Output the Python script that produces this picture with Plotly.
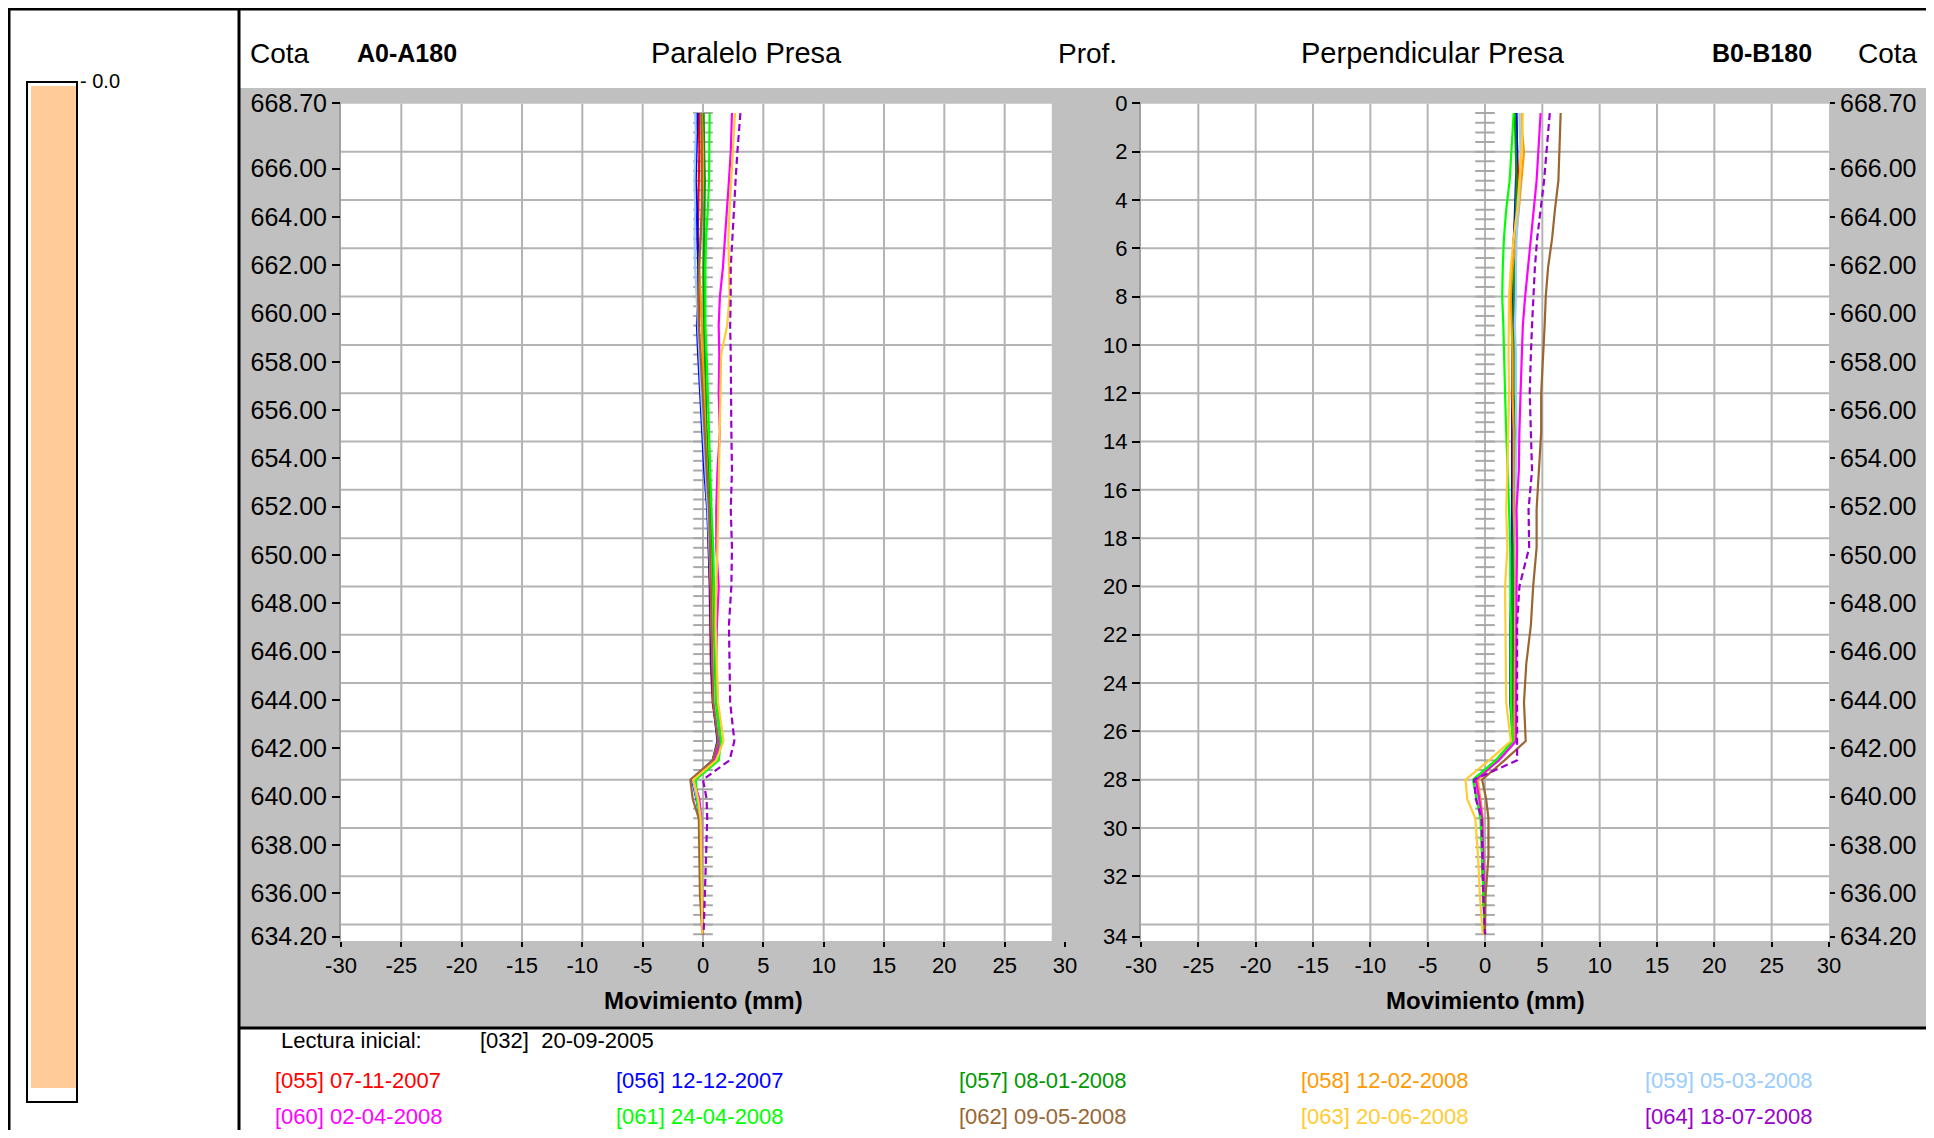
import plotly.graph_objects as go

# target canvas is 1934x1138; the page body adds an 8px margin, so the figure is
# kept inside the window and every target pixel position is shifted by that margin
W, H = 1918, 1122
OFF = 8
FONT = "Liberation Sans, Arial, sans-serif"

# ---------------- data ----------------
DEPTHS = [0.4, 1.2, 2.0, 3.2, 4.4, 5.6, 6.8, 8.0, 9.2, 10.4, 12.0, 13.6, 15.2, 16.8,
          18.4, 20.0, 21.6, 23.2, 24.8, 26.4, 27.2, 28.0, 28.8, 29.6, 31.2, 32.8, 34.4]

SERIES_IDS = ["055", "056", "057", "058", "059", "060", "061", "062", "063", "064"]
SERIES_DATES = ["07-11-2007", "12-12-2007", "08-01-2008", "12-02-2008", "05-03-2008",
                "02-04-2008", "24-04-2008", "09-05-2008", "20-06-2008", "18-07-2008"]
SERIES_COLORS = ["#FF0000", "#0000FF", "#009900", "#FF9900", "#99CCFF",
                 "#FF00FF", "#00FF00", "#996633", "#FFCC33", "#9900CC"]

# A0-A180 (Paralelo Presa), mm
A055 = [-0.35, -0.3, -0.3, -0.35, -0.4, -0.45, -0.35, -0.3, -0.35, -0.3, -0.15, 0.0, 0.2, 0.4,
        0.5, 0.55, 0.6, 0.65, 0.8, 1.25, 0.85, -0.85, -0.5, -0.25, -0.2, -0.1, 0.0]
A056 = [-0.45, -0.5, -0.55, -0.6, -0.5, -0.45, -0.4, -0.45, -0.5, -0.4, -0.25, -0.1, 0.1, 0.35,
        0.5, 0.6, 0.65, 0.7, 0.85, 1.2, 0.8, -0.9, -0.55, -0.25, -0.2, -0.15, -0.05]
A057 = [0.05, 0.1, 0.1, 0.15, 0.15, 0.1, 0.05, 0.05, 0.1, 0.15, 0.2, 0.3, 0.45, 0.6,
        0.75, 0.8, 0.85, 0.95, 1.05, 1.4, 1.1, -0.75, -0.45, -0.25, -0.2, -0.1, 0.0]
A058 = [-0.1, -0.05, 0.0, 0.0, -0.1, -0.2, -0.3, -0.2, -0.1, 0.0, 0.1, 0.2, 0.35, 0.5,
        0.6, 0.7, 0.75, 0.8, 0.9, 1.3, 0.9, -0.8, -0.5, -0.2, -0.15, -0.1, 0.0]
A059 = [-0.65, -0.6, -0.65, -0.7, -0.65, -0.7, -0.65, -0.55, -0.45, -0.3, -0.15, 0.0, 0.2, 0.4,
        0.55, 0.65, 0.7, 0.8, 0.9, 1.3, 0.95, -0.85, -0.5, -0.25, -0.2, -0.1, 0.0]
A060 = [2.4, 2.35, 2.3, 2.15, 2.0, 1.85, 1.65, 1.4, 1.3, 1.35, 1.3, 1.4, 1.2, 1.1,
        1.1, 1.3, 1.15, 1.1, 1.2, 1.45, 0.9, -0.8, -0.3, -0.15, -0.15, -0.1, 0.0]
A061 = [0.55, 0.55, 0.55, 0.5, 0.4, 0.25, 0.2, 0.2, 0.2, 0.3, 0.4, 0.45, 0.55, 0.7,
        0.85, 0.9, 0.95, 1.0, 1.1, 1.5, 1.3, -0.6, -0.5, -0.2, -0.15, -0.1, -0.05]
A062 = [-0.15, -0.1, -0.1, -0.1, -0.1, -0.2, -0.35, -0.4, -0.35, -0.2, -0.05, 0.1, 0.3, 0.5,
        0.6, 0.65, 0.7, 0.75, 0.85, 1.25, 0.8, -1.05, -0.85, -0.35, -0.3, -0.25, -0.05]
A063 = [2.65, 2.55, 2.45, 2.35, 2.2, 2.1, 2.15, 2.2, 2.0, 1.5, 1.45, 1.4, 1.35, 1.25,
        1.2, 1.1, 1.05, 1.15, 1.25, 1.7, 1.1, -0.8, -0.4, -0.2, -0.15, -0.1, -0.05]
A064 = [3.1, 2.95, 2.85, 2.7, 2.55, 2.4, 2.3, 2.3, 2.25, 2.3, 2.3, 2.35, 2.4, 2.3,
        2.4, 2.35, 2.15, 2.2, 2.25, 2.6, 2.2, 0.0, 0.3, 0.35, 0.25, 0.15, 0.05]

# B0-B180 (Perpendicular Presa), mm
B055 = [2.7, 2.75, 2.8, 2.9, 2.7, 2.5, 2.45, 2.5, 2.55, 2.45, 2.35, 2.4, 2.4, 2.45,
        2.45, 2.45, 2.4, 2.45, 2.45, 2.6, 1.1, -0.95, -0.65, -0.3, -0.25, -0.15, 0.0]
B056 = [2.75, 2.75, 2.8, 2.7, 2.6, 2.5, 2.45, 2.4, 2.4, 2.4, 2.4, 2.4, 2.4, 2.35,
        2.35, 2.3, 2.2, 2.2, 2.2, 2.45, 1.0, -1.0, -0.7, -0.3, -0.2, -0.15, 0.0]
B057 = [2.6, 2.65, 2.65, 2.75, 2.7, 2.6, 2.55, 2.5, 2.55, 2.5, 2.5, 2.6, 2.55, 2.5,
        2.5, 2.45, 2.4, 2.4, 2.4, 2.55, 0.95, -0.95, -0.65, -0.3, -0.25, -0.15, 0.0]
B058 = [3.2, 3.25, 3.4, 3.2, 2.95, 2.7, 2.4, 2.25, 2.3, 2.4, 2.4, 2.5, 2.5, 2.5,
        2.6, 2.65, 2.65, 2.6, 2.6, 2.55, 1.1, -0.65, -0.4, -0.2, -0.15, -0.1, 0.0]
B059 = [3.0, 3.05, 3.1, 3.05, 2.9, 2.75, 2.7, 2.7, 2.6, 2.7, 2.7, 2.75, 2.7, 2.7,
        2.7, 2.65, 2.65, 2.65, 2.65, 2.7, 1.2, -0.9, -0.6, -0.3, -0.2, -0.1, 0.0]
B060 = [4.85, 4.75, 4.65, 4.5, 4.25, 4.0, 3.7, 3.5, 3.3, 3.2, 3.1, 3.0, 2.95, 2.75,
        2.8, 2.75, 2.75, 2.7, 2.7, 2.7, 1.2, -0.8, -0.5, -0.25, -0.15, -0.1, 0.0]
B061 = [2.5, 2.4, 2.3, 2.15, 1.85, 1.65, 1.55, 1.5, 1.6, 1.65, 1.75, 1.85, 2.0, 2.1,
        2.2, 2.2, 2.2, 2.2, 2.25, 2.4, 0.95, -1.05, -0.75, -0.4, -0.25, -0.15, 0.0]
B062 = [6.6, 6.55, 6.45, 6.4, 6.1, 5.85, 5.5, 5.3, 5.2, 5.05, 4.9, 4.9, 4.7, 4.5,
        4.5, 4.2, 4.0, 3.6, 3.4, 3.55, 1.7, -0.25, 0.1, 0.3, 0.3, 0.05, 0.0]
B063 = [3.3, 3.25, 3.2, 3.0, 2.8, 2.5, 2.25, 2.1, 2.05, 2.05, 2.1, 2.05, 1.95, 1.85,
        1.95, 1.75, 1.8, 1.8, 1.85, 2.25, 0.35, -1.7, -1.55, -0.85, -0.6, -0.45, -0.2]
B064 = [5.65, 5.5, 5.4, 5.15, 4.85, 4.55, 4.35, 4.2, 4.1, 4.0, 3.9, 4.0, 4.1, 3.8,
        3.85, 3.0, 2.8, 2.8, 2.8, 2.8, 2.8, -0.95, -0.8, -0.3, -0.25, -0.15, 0.0]

A_SERIES = [A055, A056, A057, A058, A059, A060, A061, A062, A063, A064]
B_SERIES = [B055, B056, B057, B058, B059, B060, B061, B062, B063, B064]

READ_DEPTHS = [round(0.4 * k, 1) for k in range(1, 87)]   # gauge reading marks
GRID_DEPTHS = list(range(2, 35, 2))
GRID_X = [-25, -20, -15, -10, -5, 0, 5, 10, 15, 20, 25]
DEPTH_TICKS = list(range(0, 33, 2)) + [34.5]
DEPTH_TEXT = [str(v) for v in range(0, 33, 2)] + ["34"]
COTA_TICKS = [668.70] + list(range(666, 635, -2)) + [634.20]
COTA_TEXT = [f"{v:.2f}" for v in COTA_TICKS]
X_TICKS = list(range(-30, 31, 5))
X_TEXT = [str(v) for v in X_TICKS]

COTA_TOP = 668.70
DEPTH_BOTTOM = 34.68
A_WHITE_END = 28.9


def px(x):
    return (x - OFF) / W


def py(y):
    return 1 - (y - OFF) / H


fig = go.Figure()

GRID = "#B4B4B4"

for xa, ya in (("x", "y"), ("x2", "y2")):
    fig.add_trace(go.Scatter(
        x=[0] * len(READ_DEPTHS), y=READ_DEPTHS, xaxis=xa, yaxis=ya, mode="markers",
        marker=dict(symbol="line-ew", size=14, line=dict(width=2, color="#A8A8A8")),
        showlegend=False, hoverinfo="skip"))

for sid, col, a, b in zip(SERIES_IDS, SERIES_COLORS, A_SERIES, B_SERIES):
    dash = "7px,4px" if sid == "064" else "solid"
    fig.add_trace(go.Scatter(x=a, y=DEPTHS, xaxis="x", yaxis="y", mode="lines",
                             line=dict(color=col, width=2.2, dash=dash), showlegend=False,
                             name=sid))
    fig.add_trace(go.Scatter(x=b, y=DEPTHS, xaxis="x2", yaxis="y2", mode="lines",
                             line=dict(color=col, width=2.2, dash=dash), showlegend=False,
                             name=sid))

# invisible anchors so the overlaid label axes get drawn
for xa, ya, yv in (("x", "y4", COTA_TOP), ("x2", "y3", COTA_TOP), ("x2", "y5", 0)):
    fig.add_trace(go.Scatter(x=[0], y=[yv], xaxis=xa, yaxis=ya, mode="markers",
                             marker=dict(opacity=0, size=1), showlegend=False,
                             hoverinfo="skip"))

y_dom = [py(941), py(103.4)]
xaxis_common = dict(range=[-30, 30], tickvals=X_TICKS, ticktext=X_TEXT, ticks="outside",
                    ticklen=5, tickwidth=1.5, tickcolor="black", showgrid=False,
                    zeroline=False, showline=False, automargin=False,
                    tickfont=dict(size=22, color="black", family=FONT))
depth_grid = dict(domain=y_dom, range=[DEPTH_BOTTOM, 0], showticklabels=False, ticks="",
                  showgrid=False, zeroline=False, showline=True, linecolor="#A0A0A0",
                  linewidth=1.5, automargin=False)
cota_axis = dict(range=[COTA_TOP - DEPTH_BOTTOM, COTA_TOP], tickvals=COTA_TICKS,
                 ticktext=COTA_TEXT, ticks="outside", tickwidth=1.5, tickcolor="black",
                 showgrid=False, zeroline=False, showline=False, automargin=False,
                 tickfont=dict(size=25, color="black", family=FONT))

fig.update_layout(
    template="none",
    width=W, height=H, margin=dict(l=0, r=0, t=0, b=0, pad=0), autosize=False,
    paper_bgcolor="white", plot_bgcolor="#C0C0C0",
    font=dict(family=FONT, color="black"),
    showlegend=False,
    xaxis=dict(domain=[px(341), px(1065)], anchor="y", **xaxis_common),
    xaxis2=dict(domain=[px(1141), px(1829)], anchor="y2", **xaxis_common),
    yaxis=dict(anchor="x", **depth_grid),
    yaxis2=dict(anchor="x2", **depth_grid),
    yaxis4=dict(overlaying="y", side="left", anchor="x", ticklen=8, **cota_axis),
    yaxis3=dict(overlaying="y2", side="right", anchor="x2", ticklen=5, **cota_axis),
    yaxis5=dict(overlaying="y2", side="left", anchor="x2", range=[DEPTH_BOTTOM, 0],
                tickvals=DEPTH_TICKS, ticktext=DEPTH_TEXT, ticks="outside", ticklen=8,
                tickwidth=1.5, tickcolor="black", showgrid=False, zeroline=False,
                showline=False, automargin=False,
                tickfont=dict(size=22, color="black", family=FONT)),
)

shapes = [
    # grey panel
    dict(type="rect", xref="paper", yref="paper", x0=px(240), x1=1, y0=py(1027), y1=py(88),
         fillcolor="#C0C0C0", line=dict(width=0), layer="below"),
    # white plot areas
    dict(type="rect", xref="x", yref="y", x0=-30, x1=A_WHITE_END, y0=DEPTH_BOTTOM, y1=0,
         fillcolor="white", line=dict(width=0), layer="below"),
    dict(type="rect", xref="x2", yref="y2", x0=-30, x1=30, y0=DEPTH_BOTTOM, y1=0,
         fillcolor="white", line=dict(width=0), layer="below"),
]
# grid lines (limited to the white areas)
for xr, yr, xend in (("x", "y", A_WHITE_END), ("x2", "y2", 30)):
    for d in GRID_DEPTHS:
        shapes.append(dict(type="line", xref=xr, yref=yr, x0=-30, x1=xend, y0=d, y1=d,
                           line=dict(width=2, color=GRID), layer="below"))
    for gx in GRID_X:
        shapes.append(dict(type="line", xref=xr, yref=yr, x0=gx, x1=gx, y0=0,
                           y1=DEPTH_BOTTOM, line=dict(width=2, color=GRID), layer="below"))

shapes += [
    # colour bar
    dict(type="rect", xref="paper", yref="paper", x0=px(31), x1=px(76), y0=py(1088), y1=py(86),
         fillcolor="#FFCC99", line=dict(width=0), layer="above"),
    dict(type="rect", xref="paper", yref="paper", x0=px(27), x1=px(77), y0=py(1102), y1=py(82),
         fillcolor="rgba(0,0,0,0)", line=dict(width=2, color="black"), layer="above"),
    # frame lines
    dict(type="line", xref="paper", yref="paper", x0=px(8), x1=1, y0=py(9), y1=py(9),
         line=dict(width=3, color="black")),
    dict(type="line", xref="paper", yref="paper", x0=px(9), x1=px(9), y0=py(8), y1=0,
         line=dict(width=3, color="black")),
    dict(type="line", xref="paper", yref="paper", x0=px(239), x1=px(239), y0=py(8), y1=0,
         line=dict(width=3, color="black")),
    dict(type="line", xref="paper", yref="paper", x0=px(238), x1=1, y0=py(1028), y1=py(1028),
         line=dict(width=3, color="black")),
]
fig.update_layout(shapes=shapes)

ann = []


def text(x, y, s, size, xanchor="left", color="black", xref="paper"):
    ann.append(dict(x=x if xref != "paper" else px(x), y=py(y), xref=xref, yref="paper",
                    text=s, showarrow=False, xanchor=xanchor, yanchor="middle",
                    font=dict(size=size, color=color, family=FONT)))


text(78, 81, "- 0.0", 20)
# header
text(248, 53, "Cota", 28)
text(355, 53, "<b>A0-A180</b>", 25)
text(746, 53, "Paralelo Presa", 29, "center")
text(1056, 53, "Prof.", 28)
text(1433, 53, "Perpendicular Presa", 29, "center")
text(1814, 53, "<b>B0-B180</b>", 25, "right")
text(1856, 53, "Cota", 28)
# axis titles
text(0, 1000, "<b>Movimiento (mm)</b>", 24, "center", xref="x")
text(0, 1000, "<b>Movimiento (mm)</b>", 24, "center", xref="x2")
# legend block
text(279, 1040, "Lectura inicial:", 22)
text(478, 1040, "[032]  20-09-2005", 22)
COL_X = [273, 614, 957, 1299, 1643]
for i, (sid, d, col) in enumerate(zip(SERIES_IDS, SERIES_DATES, SERIES_COLORS)):
    row, c = divmod(i, 5)
    text(COL_X[c], 1080 + row * 36, f"[{sid}] {d}", 22, color=col)

fig.update_layout(annotations=ann)
fig.write_html("out.html")
